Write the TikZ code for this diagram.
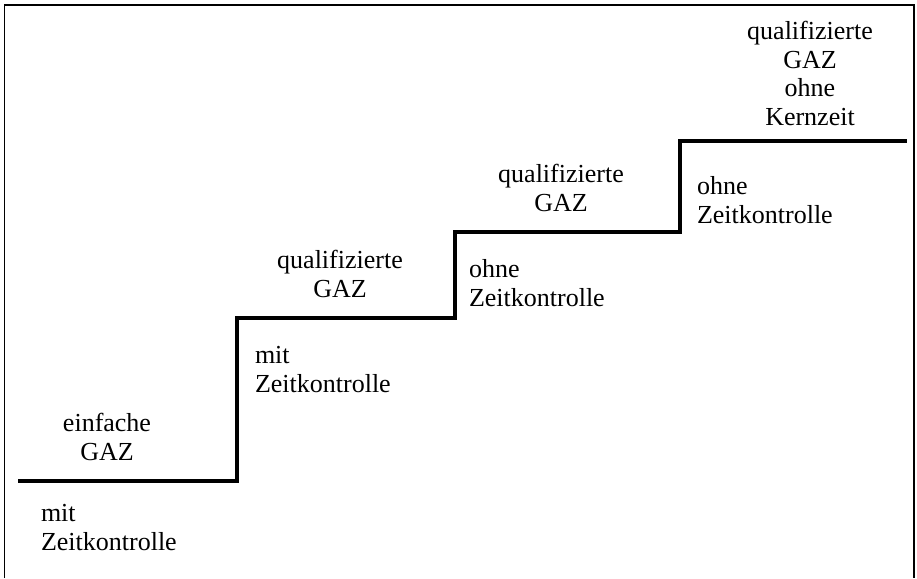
\documentclass[tikz,border=0pt]{standalone}
\usepackage{fontspec}
\setmainfont{Liberation Serif}
\begin{document}
\begin{tikzpicture}[x=1pt,y=-1pt,
  lbl/.style={inner sep=0pt, outer sep=0pt, font=\fontsize{26}{28.5}\selectfont},
  above lbl/.style={lbl, align=center, anchor=base},
  below lbl/.style={lbl, align=left, anchor=base west},
  stairline/.style={line width=4.5pt, line join=miter, line cap=butt},
  frameline/.style={line width=1.5pt}]
\useasboundingbox (0,0) rectangle (917,578);
% frame (open at bottom)
\draw[frameline] (4.5,578) -- (4.5,5) -- (914,5) -- (914,578);
% staircase corner coordinates
\coordinate (s0) at (18,481);
\coordinate (c1) at (237,481);
\coordinate (c2) at (237,318);
\coordinate (c3) at (455,318);
\coordinate (c4) at (455,232);
\coordinate (c5) at (680,232);
\coordinate (c6) at (680,141);
\coordinate (s1) at (907,141);
\draw[stairline] (s0) -- (c1) -- (c2) -- (c3) -- (c4) -- (c5) -- (c6) -- (s1);
% labels above the steps (anchored at last baseline)
\node[above lbl] (t0) at (107,460) {einfache\\GAZ};
\node[above lbl] (t1) at (340,297) {qualifizierte\\GAZ};
\node[above lbl] (t2) at (561,211) {qualifizierte\\GAZ};
\node[above lbl] (t3) at (810,125) {qualifizierte\\GAZ\\ohne\\Kernzeit};
% labels below the steps
\node[below lbl] (b0) at (41,550) {mit\\Zeitkontrolle};
\node[below lbl] (b1) at (255,392) {mit\\Zeitkontrolle};
\node[below lbl] (b2) at (469,306) {ohne\\Zeitkontrolle};
\node[below lbl] (b3) at (697,223) {ohne\\Zeitkontrolle};
\end{tikzpicture}
\end{document}
